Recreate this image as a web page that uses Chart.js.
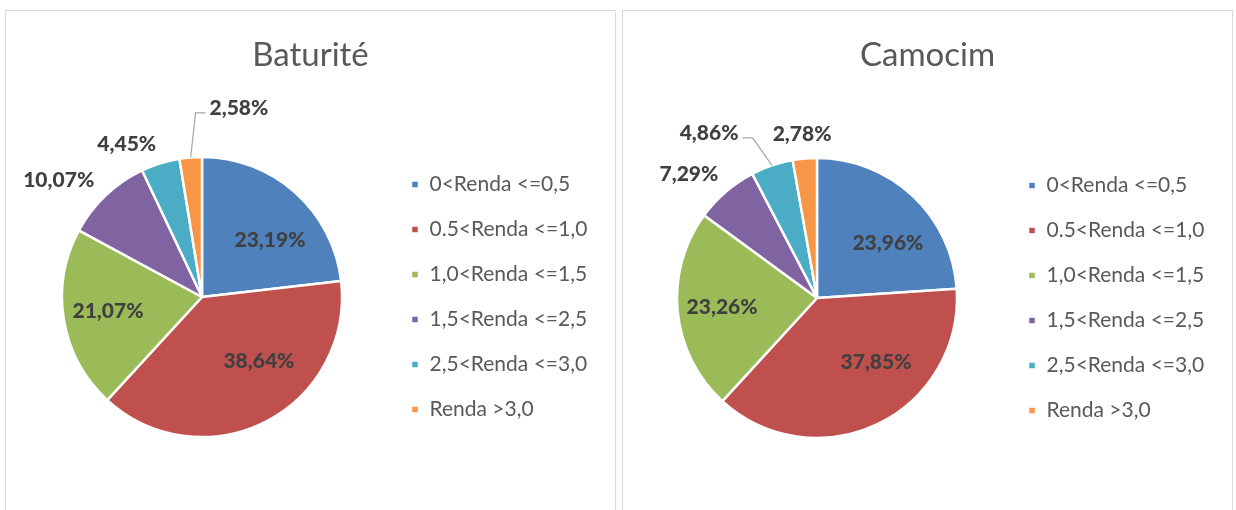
<!DOCTYPE html>
<html lang="pt">
<head>
  <meta charset="UTF-8">
  <title>Renda - Baturité e Camocim</title>
  <style>
    body {
      margin: 0;
      background: white;
      overflow: hidden;
      width: 1236px;
      height: 510px;
      position: relative;
    }
    .panel {
      position: absolute;
      top: 10px;
      width: 609px;
      height: 520px;
      border: 1px solid #d9d9d9;
    }
    #p1 { left: 5px; }
    #p2 { left: 622px; }
    canvas { display: block; }
  </style>
</head>
<body>
  <div class="panel" id="p1"><canvas id="c1" width="609" height="520"></canvas></div>
  <div class="panel" id="p2"><canvas id="c2" width="609" height="520"></canvas></div>

  <script src="https://cdn.jsdelivr.net/npm/chart.js"></script>
  <script>
    const categories = ['0<Renda <=0,5', '0.5<Renda <=1,0', '1,0<Renda <=1,5', '1,5<Renda <=2,5', '2,5<Renda <=3,0', 'Renda >3,0'];
    const baturiteValues = [23.19, 38.64, 21.07, 10.07, 4.45, 2.58];
    const camocimValues = [23.96, 37.85, 23.26, 7.29, 4.86, 2.78];
    const titles = ['Baturité', 'Camocim'];

    const colors = ['#4F81BD', '#C0504D', '#9BBB59', '#8064A2', '#4BACC6', '#F79646'];
    const FONT = 'Lato';
    const LEGEND_LEFT = 381; // where the legend box should start inside the canvas

    // label placement: [radius factor, angle nudge in degrees]
    const baturitePlace = [[0.634, 8.3], [0.612, -14.7], [0.679, 1.0], [1.32, -7.4], [1.217, -8.9], [1.376, 15.7]];
    const camocimPlace = [[0.641, 9.1], [0.622, -17.1], [0.681, 0.2], [1.273, -5.3], [1.409, -14.4], [1.176, -0.2]];

    const fmt = v => v.toFixed(2).replace('.', ',') + '%';

    const titlePlugin = {
      id: 'panelTitle',
      afterDraw(chart, args, opts) {
        const ctx = chart.ctx;
        ctx.save();
        ctx.font = '33px ' + FONT;
        ctx.fillStyle = '#595959';
        ctx.textAlign = 'center';
        ctx.textBaseline = 'middle';
        ctx.fillText(opts.text, chart.width / 2, opts.y);
        ctx.restore();
      }
    };

    const labelPlugin = {
      id: 'sliceLabels',
      afterDatasetsDraw(chart, args, opts) {
        const ctx = chart.ctx;
        const meta = chart.getDatasetMeta(0);
        const values = chart.data.datasets[0].data;
        ctx.save();
        ctx.font = '900 21px ' + FONT;
        ctx.textAlign = 'center';
        ctx.textBaseline = 'middle';
        meta.data.forEach((arc, i) => {
          const p = arc.getProps(['x', 'y', 'startAngle', 'endAngle', 'outerRadius'], true);
          const mid = (p.startAngle + p.endAngle) / 2;
          const a = mid + opts.place[i][1] * Math.PI / 180;
          const r = opts.place[i][0] * p.outerRadius;
          const lx = p.x + r * Math.cos(a);
          const ly = p.y + r * Math.sin(a);
          const text = fmt(values[i]);
          if (opts.leader === i) {
            const w = ctx.measureText(text).width;
            const ex = p.x + p.outerRadius * Math.cos(mid);
            const ey = p.y + p.outerRadius * Math.sin(mid);
            const side = ex < lx ? -1 : 1;
            const sx = lx + side * (w / 2 + 4);
            ctx.strokeStyle = '#a6a6a6';
            ctx.lineWidth = 1.2;
            ctx.beginPath();
            ctx.moveTo(sx, ly + 5);
            ctx.lineTo(sx + side * 10, ly + 5);
            ctx.lineTo(ex, ey);
            ctx.stroke();
          }
          ctx.fillStyle = '#404040';
          ctx.fillText(text, lx, ly);
        });
        ctx.restore();
      }
    };

    function makePie(id, title, values, place, leader, pad) {
      const chart = new Chart(document.getElementById(id), {
        type: 'pie',
        data: {
          labels: categories,
          datasets: [{
            data: values,
            backgroundColor: colors,
            borderColor: '#ffffff',
            borderWidth: 2.5,
            radius: 140
          }]
        },
        options: {
          responsive: false,
          animation: false,
          layout: { padding: pad },
          plugins: {
            title: { display: false },
            tooltip: { enabled: false },
            legend: {
              position: 'right',
              align: 'center',
              labels: {
                boxWidth: 8,
                boxHeight: 8,
                padding: 24,
                color: '#595959',
                font: { family: FONT, size: 21 }
              }
            },
            panelTitle: { text: title, y: 44 },
            sliceLabels: { place: place, leader: leader }
          }
        },
        plugins: [titlePlugin, labelPlugin]
      });
      // push the legend to a fixed x so the pie centre lands where it should
      pad.right = chart.width - LEGEND_LEFT - chart.legend.width;
      chart.options.layout.padding = pad;
      chart.update();
      return chart;
    }

    makePie('c1', titles[0], baturiteValues, baturitePlace, 5, { left: 11, right: 78, top: 134, bottom: 82 });
    makePie('c2', titles[1], camocimValues, camocimPlace, 4, { left: 7, right: 78, top: 135, bottom: 81 });
  </script>
</body>
</html>
